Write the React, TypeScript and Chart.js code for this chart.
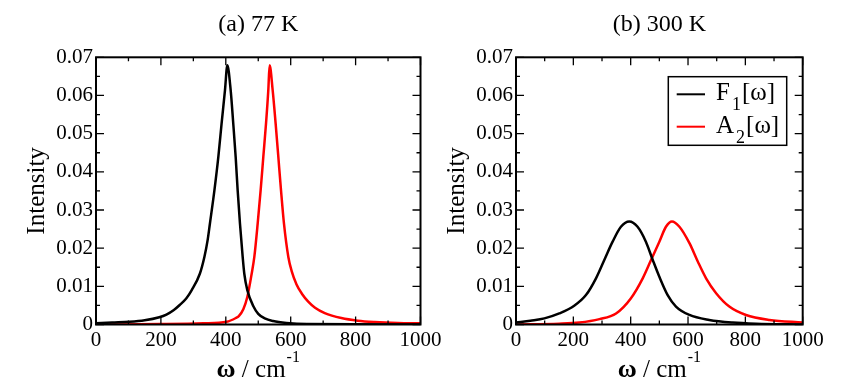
import React, { useEffect, useRef } from 'react';
import { Chart, registerables } from 'chart.js';

Chart.register(...registerables);

// ---------- data ----------
// Panel (a) 77 K
const A_F1_W = [0, 50, 103, 150, 195, 217, 240, 259, 278, 295, 320, 334, 344, 351, 365, 377, 387, 397.5, 404.7, 415, 423, 430.4, 436.5, 443.7, 452, 457, 466.3, 485, 500, 520, 546, 587, 650, 1000];
const A_F1_I = [0.0003, 0.0005, 0.0007, 0.0011, 0.0019, 0.0026, 0.0038, 0.0052, 0.0068, 0.009, 0.0133, 0.0177, 0.0221, 0.0264, 0.0352, 0.0439, 0.0526, 0.0614, 0.0679, 0.0614, 0.0526, 0.0439, 0.0352, 0.0264, 0.0177, 0.0133, 0.009, 0.0048, 0.0028, 0.0016, 0.0009, 0.0004, 0.0001, 0];
const A_A2_W = [0, 200, 330.7, 402.6, 431, 440, 454, 466.3, 479.7, 487.9, 498.2, 507.4, 515.6, 523.9, 531, 535, 544.4, 553.6, 561.9, 570.1, 579.3, 592.7, 603, 618, 635, 654, 675, 705, 756, 807, 859, 930, 1000];
const A_A2_I = [0, 0.0001, 0.0003, 0.0007, 0.0017, 0.0022, 0.004, 0.0072, 0.0133, 0.0177, 0.0264, 0.0352, 0.0439, 0.0526, 0.0614, 0.0679, 0.0614, 0.0526, 0.0439, 0.0352, 0.0264, 0.0177, 0.014, 0.0105, 0.008, 0.006, 0.0044, 0.003, 0.0017, 0.001, 0.00065, 0.0004, 0.0003];

// Panel (b) 300 K
const B_F1_W = [0, 50, 99, 151, 203, 244, 279, 308, 337, 366, 395, 424, 453, 477, 500, 529, 558, 605, 674, 756, 837, 1000];
const B_F1_I = [0.0005, 0.001, 0.0016, 0.0029, 0.0049, 0.0077, 0.0121, 0.0169, 0.0217, 0.0256, 0.027, 0.0256, 0.0217, 0.0169, 0.0125, 0.0077, 0.0047, 0.0025, 0.0012, 0.0005, 0.0002, 0];
const B_A2_W = [0, 150, 221, 291, 349, 401, 442, 471, 500, 523, 544, 570, 605, 634, 663, 698, 744, 802, 884, 1000];
const B_A2_I = [0, 0.0002, 0.0005, 0.0014, 0.0029, 0.0069, 0.0121, 0.0169, 0.0217, 0.0256, 0.027, 0.0256, 0.0213, 0.0165, 0.0121, 0.0082, 0.0047, 0.0025, 0.0012, 0.0005];

const PANEL_TITLES = ['(a) 77 K', '(b) 300 K'];
const SERIES_NAMES = ['F', 'A'];
const SERIES_SUBS = ['1', '2'];
const SERIES_COLORS = ['#000000', '#ff0000'];
const X_MIN = 0, X_MAX = 1000, X_STEP = 200, X_MINOR = 100;
const Y_MIN = 0, Y_MAX = 0.07, Y_STEP = 0.01, Y_MINOR = 0.005;
const Y_TITLE = 'Intensity';

const FONT = '"Liberation Serif", "Times New Roman", serif';

function pts(xs: number[], ys: number[]) {
  return xs.map((x, i) => ({ x, y: ys[i] }));
}

const framePlugin = {
  id: 'frameTicks',
  afterDatasetsDraw(chart: any) {
    const { ctx, chartArea: a, scales } = chart;
    const x = scales.x, y = scales.y;
    ctx.save();
    ctx.strokeStyle = '#000';
    ctx.lineWidth = 1.3;
    ctx.beginPath();
    const nx = Math.round((X_MAX - X_MIN) / X_MINOR);
    for (let i = 0; i <= nx; i++) {
      const v = X_MIN + i * X_MINOR;
      const px = x.getPixelForValue(v);
      const len = i % Math.round(X_STEP / X_MINOR) === 0 ? 8 : 4;
      ctx.moveTo(px, a.bottom); ctx.lineTo(px, a.bottom - len);
      ctx.moveTo(px, a.top); ctx.lineTo(px, a.top + len);
    }
    const ny = Math.round((Y_MAX - Y_MIN) / Y_MINOR);
    for (let i = 0; i <= ny; i++) {
      const v = Y_MIN + i * Y_MINOR;
      const py = y.getPixelForValue(v);
      const len = i % Math.round(Y_STEP / Y_MINOR) === 0 ? 8 : 4;
      ctx.moveTo(a.left, py); ctx.lineTo(a.left + len, py);
      ctx.moveTo(a.right, py); ctx.lineTo(a.right - len, py);
    }
    ctx.stroke();
    ctx.lineWidth = 2;
    ctx.strokeRect(a.left, a.top, a.right - a.left, a.bottom - a.top);
    ctx.restore();
  },
};

const textPlugin = {
  id: 'panelText',
  afterDraw(chart: any, _args: any, opts: any) {
    const { ctx, chartArea: a } = chart;
    const cx = (a.left + a.right) / 2;
    const cy = (a.top + a.bottom) / 2;
    ctx.save();
    ctx.fillStyle = '#000';
    // title
    ctx.font = `24px ${FONT}`;
    ctx.textAlign = 'center';
    ctx.textBaseline = 'alphabetic';
    ctx.fillText(opts.title, cx, 30.7);
    // y title
    ctx.save();
    ctx.translate(a.left - 52.5, cy);
    ctx.rotate(-Math.PI / 2);
    ctx.font = `25px ${FONT}`;
    ctx.textAlign = 'center';
    ctx.fillText(Y_TITLE, 0, 0);
    ctx.restore();
    // x title: bold omega, " / cm", superscript "-1"
    ctx.textAlign = 'left';
    const boldF = `bold 26px ${FONT}`;
    const normF = `25px ${FONT}`;
    const supF = `16px ${FONT}`;
    ctx.font = boldF; const w1 = ctx.measureText('ω').width;
    ctx.font = normF; const w2 = ctx.measureText(' / cm').width;
    ctx.font = supF; const w3 = ctx.measureText('-1').width;
    let sx = cx - (w1 + w2 + w3 + 1) / 2;
    const base = 377;
    ctx.font = boldF; ctx.fillText('ω', sx, base); sx += w1;
    ctx.font = normF; ctx.fillText(' / cm', sx, base); sx += w2 + 1;
    ctx.font = supF; ctx.fillText('-1', sx, 362);
    // legend
    if (opts.legend) {
      const bx = a.right - 134.4, by = a.top + 19.4, bw = 118.4, bh = 68.6;
      ctx.lineWidth = 1.5;
      ctx.strokeStyle = '#000';
      ctx.strokeRect(bx, by, bw, bh);
      chart.data.datasets.forEach((ds: any, i: number) => {
        const ly = by + 17.6 + i * 32.4;
        ctx.strokeStyle = ds.borderColor;
        ctx.lineWidth = 2;
        ctx.beginPath();
        ctx.moveTo(bx + 8.4, ly); ctx.lineTo(bx + 36.7, ly);
        ctx.stroke();
        const tb = by + 23.3 + i * 33.3;
        let tx = bx + 47.7;
        ctx.font = `25px ${FONT}`;
        ctx.fillText(SERIES_NAMES[i], tx, tb);
        tx += ctx.measureText(SERIES_NAMES[i]).width + 2;
        ctx.font = `18px ${FONT}`;
        ctx.fillText(SERIES_SUBS[i], tx, tb + 10);
        tx += ctx.measureText(SERIES_SUBS[i]).width + 1;
        ctx.font = `25px ${FONT}`;
        ctx.fillText('[ω]', tx, tb);
      });
    }
    ctx.restore();
  },
};

function makeConfig(f1: any[], a2: any[], title: string, legend: boolean, padding: any): any {
  const tickFont = { family: FONT, size: 21 };
  return {
    type: 'line',
    data: {
      datasets: [
        { label: 'F1[ω]', data: f1, borderColor: SERIES_COLORS[0], borderWidth: 2.5, pointRadius: 0, fill: false, cubicInterpolationMode: 'monotone' },
        { label: 'A2[ω]', data: a2, borderColor: SERIES_COLORS[1], borderWidth: 2.5, pointRadius: 0, fill: false, cubicInterpolationMode: 'monotone' },
      ],
    },
    options: {
      responsive: false,
      animation: false,
      events: [],
      layout: { padding },
      plugins: {
        legend: { display: false },
        tooltip: { enabled: false },
        title: { display: false },
        panelText: { title, legend },
      },
      scales: {
        x: {
          type: 'linear',
          min: X_MIN, max: X_MAX,
          grid: { display: false, drawTicks: false },
          border: { display: false },
          ticks: { stepSize: X_STEP, font: tickFont, color: '#000', padding: 3, maxRotation: 0, autoSkip: false,
            callback: (v: any) => String(v) },
          afterFit: (s: any) => { s.height = 40; },
        },
        y: {
          type: 'linear',
          min: Y_MIN, max: Y_MAX,
          grid: { display: false, drawTicks: false },
          border: { display: false },
          ticks: { stepSize: Y_STEP, font: tickFont, color: '#000', padding: 3, autoSkip: false,
            callback: (v: any) => (Math.abs(v) < 1e-9 ? '0' : Number(v).toFixed(2)) },
          afterFit: (s: any) => { s.width = 60; },
        },
      },
    },
    plugins: [framePlugin, textPlugin],
  };
}

function Panel(props: { config: any }) {
  const ref = useRef<HTMLCanvasElement | null>(null);
  useEffect(() => {
    if (!ref.current) return;
    const chart = new Chart(ref.current, props.config);
    return () => chart.destroy();
  }, []);
  return (
    <canvas
      ref={ref}
      width={841}
      height={382}
      style={{ position: 'absolute', left: 0, top: 0, width: 841, height: 382 }}
    />
  );
}

export default function App() {
  const cfgA = makeConfig(pts(A_F1_W, A_F1_I), pts(A_A2_W, A_A2_I), PANEL_TITLES[0], false,
    { left: 36, right: 420.5, top: 57.3, bottom: 17.5 });
  const cfgB = makeConfig(pts(B_F1_W, B_F1_I), pts(B_A2_W, B_A2_I), PANEL_TITLES[1], true,
    { left: 456, right: 38.3, top: 57.3, bottom: 17.5 });
  return (
    <div style={{ position: 'fixed', left: 0, top: 0, width: 841, height: 382, background: '#fff', overflow: 'hidden' }}>
      <Panel config={cfgA} />
      <Panel config={cfgB} />
    </div>
  );
}
